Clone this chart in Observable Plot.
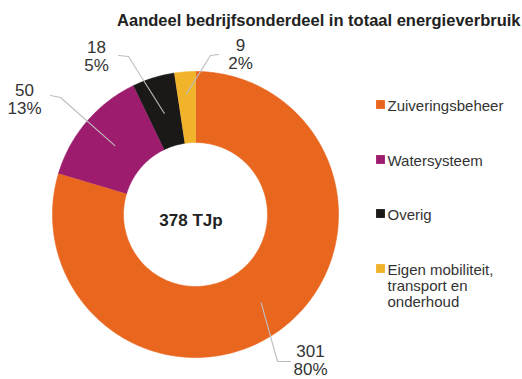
<!DOCTYPE html>
<html><head><meta charset="utf-8">
<script src="https://cdn.jsdelivr.net/npm/d3@7"></script>
<script src="https://cdn.jsdelivr.net/npm/@observablehq/plot@0.6"></script>
<style>
body{margin:0;background:#fff;}
#chart svg{display:block;font-family:"Liberation Sans",Arial,sans-serif;}
</style>
</head><body><div id="chart"></div>
<script>
// ---- data ----
const categories = ["Zuiveringsbeheer", "Watersysteem", "Overig", "Eigen mobiliteit, transport en onderhoud"];
const legendLabels = ["Zuiveringsbeheer", "Watersysteem", "Overig", "Eigen mobiliteit,\ntransport en\nonderhoud"];
const values = [301, 50, 18, 9];
const percentLabels = ["80%", "13%", "5%", "2%"];
const colors = ["#E9661E", "#9E1C6E", "#1B1918", "#F1B32A"];
const title = "Aandeel bedrijfsonderdeel in totaal energieverbruik";
const centerLabel = "378 TJp";

// ---- layout (pixels) ----
const W = 522, H = 379;
const cx = 195, cy = 214, rOuter = 143, rInner = 72;
const leaderInnerR = [110, 106, 106, 121];
const leaderElbow = [[277, 361], [60, 97], [128, 56], [210, 55]];
const leaderEnd = [[290, 361], [50, 95], [118, 55], [218, 54]];
const labelPos = [[310, 344], [24, 83], [96, 40], [240, 38]];
const legendSquareX = 380, legendTextX = 387, legendY = [104, 159, 213, 268];

// ---- geometry from values ----
const total = d3.sum(values);
const pt = (a, r) => ({x: cx + r * Math.sin(a), y: cy - r * Math.cos(a)});
let acc = 0;
const slices = values.map((v, i) => {
  const a0 = acc / total * 2 * Math.PI;
  acc += v;
  const a1 = acc / total * 2 * Math.PI;
  return {i, cat: categories[i], a0, a1, mid: (a0 + a1) / 2};
});
const polys = [];
for (const s of slices) {
  const n = Math.max(2, Math.ceil((s.a1 - s.a0) / (Math.PI / 180)));
  for (let k = 0; k <= n; k++) polys.push({cat: s.cat, ...pt(s.a0 + (s.a1 - s.a0) * k / n, rOuter)});
  for (let k = n; k >= 0; k--) polys.push({cat: s.cat, ...pt(s.a0 + (s.a1 - s.a0) * k / n, rInner)});
}
const leaders = [];
slices.forEach((s, i) => {
  leaders.push({i, ...pt(s.mid, leaderInnerR[i])});
  leaders.push({i, x: leaderElbow[i][0], y: leaderElbow[i][1]});
  leaders.push({i, x: leaderEnd[i][0], y: leaderEnd[i][1]});
});
const valueLabels = slices.map((s, i) => ({x: labelPos[i][0], y: labelPos[i][1], t: values[i] + "\n" + percentLabels[i]}));
const legend = categories.map((c, i) => ({cat: c, y: legendY[i], t: legendLabels[i]}));

const chart = Plot.plot({
  width: W, height: H,
  margin: 0,
  x: {domain: [0, W], range: [0, W], axis: null},
  y: {domain: [0, H], range: [0, H], axis: null},
  color: {domain: categories, range: colors},
  marks: [
    Plot.line(polys, {x: "x", y: "y", z: "cat", fill: "cat", stroke: "cat", strokeWidth: 0.6, curve: "linear"}),
    Plot.line(leaders, {x: "x", y: "y", z: "i", stroke: "#bdbdbd", strokeWidth: 1.1, curve: "linear"}),
    Plot.text(valueLabels, {x: "x", y: "y", text: "t", textAnchor: "middle", lineAnchor: "top", fontSize: 17, lineHeight: 1.05, fill: "#333"}),
    Plot.text([centerLabel], {x: () => cx - 4.5, y: () => cy + 6, text: d => d, fontSize: 17, fontWeight: "bold", fill: "#222", lineAnchor: "middle"}),
    Plot.text([title], {x: () => W - 2, y: () => 25, text: d => d, textAnchor: "end", lineAnchor: "bottom", fontSize: 16.5, fontWeight: "bold", fill: "#222"}),
    Plot.dot(legend, {x: () => legendSquareX, y: "y", symbol: "square", r: 5, fill: "cat"}),
    Plot.text(legend, {x: () => legendTextX, y: d => d.y - 5.3, text: "t", textAnchor: "start", lineAnchor: "top", fontSize: 15, lineHeight: 1.08, fill: "#333"})
  ]
});
document.getElementById("chart").append(chart);
</script>
</body></html>
